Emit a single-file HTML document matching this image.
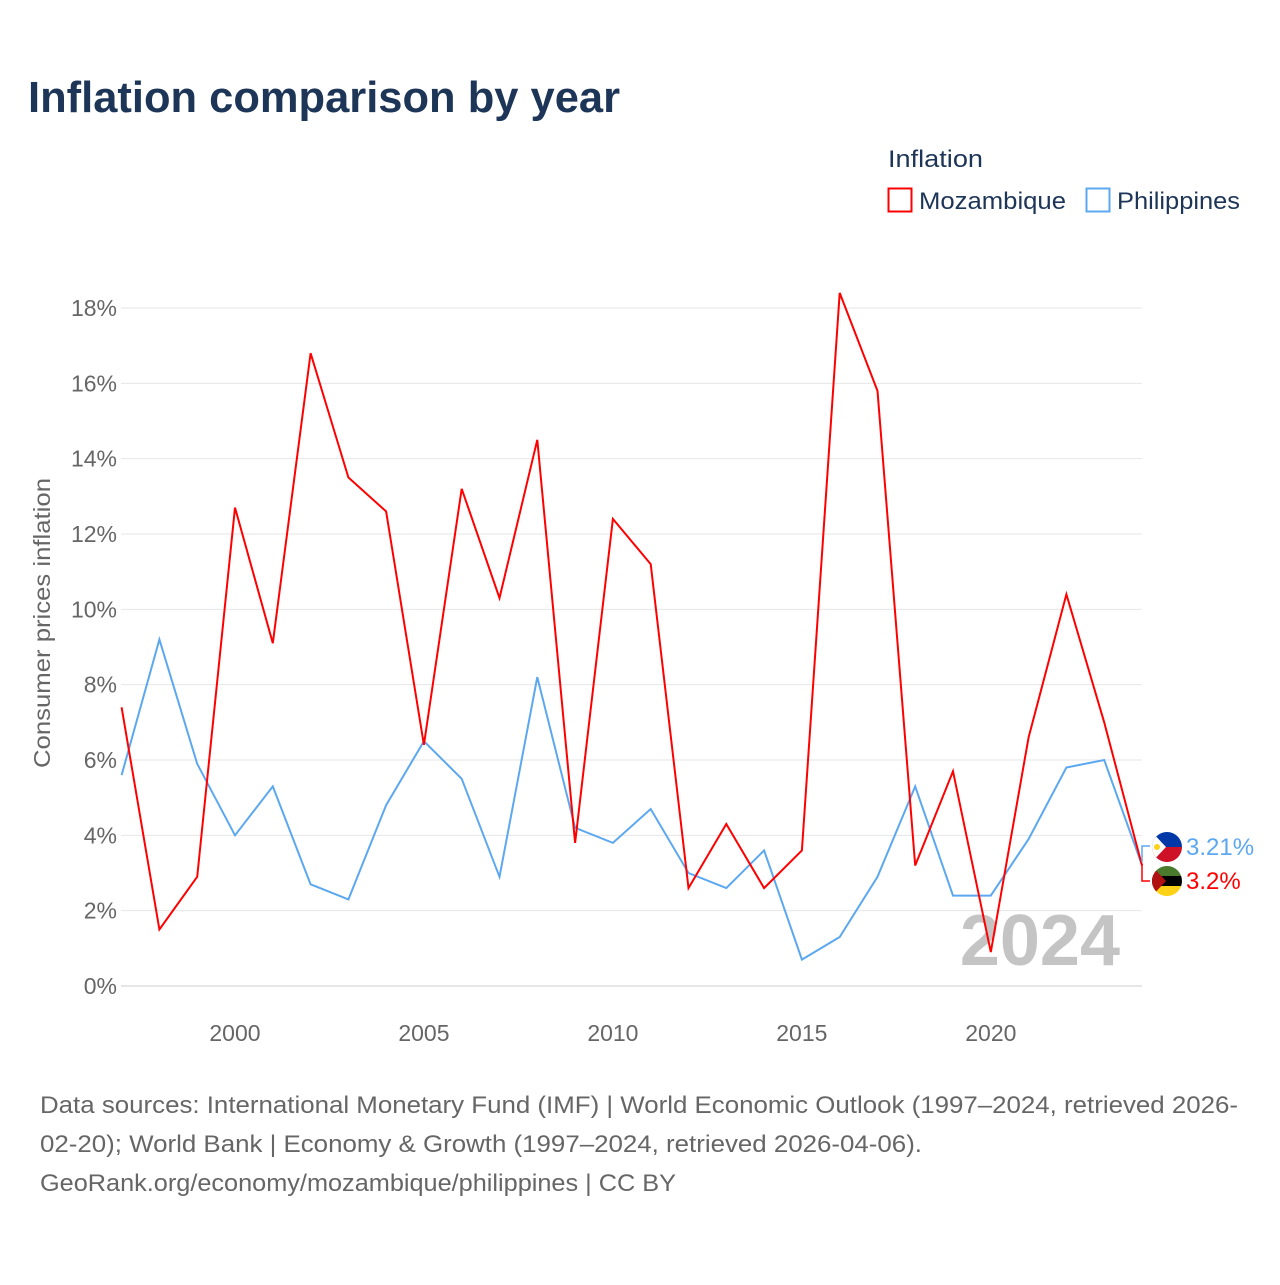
<!DOCTYPE html>
<html><head><meta charset="utf-8"><style>
body{margin:0;background:#fff;font-family:"Liberation Sans",sans-serif}
</style></head><body>
<svg width="1280" height="1280" viewBox="0 0 1280 1280" id="svg">
<text x="28" y="112" font-size="44" font-weight="bold" fill="#1d3557" textLength="592" lengthAdjust="spacingAndGlyphs">Inflation comparison by year</text>
<text x="888" y="167" font-size="24" fill="#1d3557" textLength="95" lengthAdjust="spacingAndGlyphs">Inflation</text>
<g><rect x="888.5" y="188.5" width="23" height="23" fill="none" stroke="#ff0000" stroke-width="2"/><text x="919" y="209" font-size="24" fill="#1d3557" textLength="147" lengthAdjust="spacingAndGlyphs">Mozambique</text></g>
<g><rect x="1086.5" y="188.5" width="23" height="23" fill="none" stroke="#5ca8f0" stroke-width="2"/><text x="1117" y="209" font-size="24" fill="#1d3557" textLength="123" lengthAdjust="spacingAndGlyphs">Philippines</text></g>
<text transform="translate(50,623) rotate(-90)" text-anchor="middle" font-size="23" fill="#666" textLength="290" lengthAdjust="spacingAndGlyphs">Consumer prices inflation</text>
<g id="grid"></g><g id="xt"></g>
<text x="1120" y="965" text-anchor="end" font-size="72" font-weight="bold" fill="#c4c4c4">2024</text>
<g id="lines"></g>
<g>
<path d="M1150 846 H1142 V862" fill="none" stroke="#5ca8f0" stroke-width="1.5"/>
<path d="M1150 881 H1142 V864" fill="none" stroke="#ff0000" stroke-width="1.5"/>
<clipPath id="c1"><circle cx="1167" cy="847" r="15"/></clipPath>
<g clip-path="url(#c1)"><rect x="1150" y="830" width="34" height="17" fill="#0038a8"/><rect x="1150" y="847" width="34" height="17" fill="#ce1126"/><polygon points="1150,830 1166,847 1150,864" fill="#fff"/><circle cx="1157" cy="847" r="3" fill="#fcd116"/></g>
<clipPath id="c2"><circle cx="1167" cy="881" r="15"/></clipPath>
<g clip-path="url(#c2)"><rect x="1150" y="864" width="34" height="12" fill="#4a7a2c"/><rect x="1150" y="876" width="34" height="10" fill="#000"/><rect x="1150" y="886" width="34" height="12" fill="#fcd116"/><polygon points="1150,864 1166,881 1150,898" fill="#b01010"/></g>
<text x="1186" y="855" font-size="24" fill="#5ca8f0">3.21%</text>
<text x="1186" y="889" font-size="24" fill="#ff0000">3.2%</text>
</g>
<g font-size="24" fill="#666">
<text x="40" y="1113" textLength="1198" lengthAdjust="spacingAndGlyphs">Data sources: International Monetary Fund (IMF) | World Economic Outlook (1997–2024, retrieved 2026-</text>
<text x="40" y="1152" textLength="882" lengthAdjust="spacingAndGlyphs">02-20); World Bank | Economy &amp; Growth (1997–2024, retrieved 2026-04-06).</text>
<text x="40" y="1191" textLength="636" lengthAdjust="spacingAndGlyphs">GeoRank.org/economy/mozambique/philippines | CC BY</text>
</g>
</svg>
<script>
const years=[1997,1998,1999,2000,2001,2002,2003,2004,2005,2006,2007,2008,2009,2010,2011,2012,2013,2014,2015,2016,2017,2018,2019,2020,2021,2022,2023,2024];
const mozambique=[7.4,1.5,2.9,12.7,9.1,16.8,13.5,12.6,6.4,13.2,10.3,14.5,3.8,12.4,11.2,2.6,4.3,2.6,3.6,18.4,15.8,3.2,5.7,0.9,6.6,10.4,7.0,3.2];
const philippines=[5.6,9.2,5.9,4.0,5.3,2.7,2.3,4.8,6.5,5.5,2.9,8.2,4.2,3.8,4.7,3.0,2.6,3.6,0.7,1.3,2.9,5.3,2.4,2.4,3.9,5.8,6.0,3.21];
const yTicks=[0,2,4,6,8,10,12,14,16,18];
const xTicks=[2000,2005,2010,2015,2020];
const NS="http://www.w3.org/2000/svg";
const X=y=>121.6+(y-1997)*(1142-121.6)/27;
const Y=v=>986-v*(986-308)/18;
const grid=document.getElementById('grid'),xt=document.getElementById('xt'),lines=document.getElementById('lines');
yTicks.forEach(t=>{
 const l=document.createElementNS(NS,'line');
 l.setAttribute('x1',121);l.setAttribute('x2',1142);l.setAttribute('y1',Y(t));l.setAttribute('y2',Y(t));
 l.setAttribute('stroke',t===0?'#ccc':'#e6e6e6');
 
 
 grid.appendChild(l);
 const s=document.createElementNS(NS,'text');
 s.setAttribute('x',117);s.setAttribute('y',Y(t)+8);s.setAttribute('text-anchor','end');s.setAttribute('font-size','23');s.setAttribute('fill','#666');
 s.textContent=t+'%';
 
 
 grid.appendChild(s);
});
xTicks.forEach(t=>{
 const s=document.createElementNS(NS,'text');
 s.setAttribute('x',X(t));s.setAttribute('y',1041);s.setAttribute('text-anchor','middle');s.setAttribute('font-size','23');s.setAttribute('fill','#666');
 s.textContent=t;
 
 
 xt.appendChild(s);
});
function draw(vals,color,name){
 const p=document.createElementNS(NS,'path');
 p.setAttribute('d',vals.map((v,i)=>(i?'L':'M')+X(years[i]).toFixed(1)+' '+Y(v).toFixed(1)).join(' '));
 p.setAttribute('fill','none');p.setAttribute('stroke',color);p.setAttribute('stroke-width','2');
 
 
 lines.appendChild(p);
}
draw(philippines,'#5ca8f0','philippines-line');
draw(mozambique,'#ff0000','mozambique-line');
</script>
</body></html>
